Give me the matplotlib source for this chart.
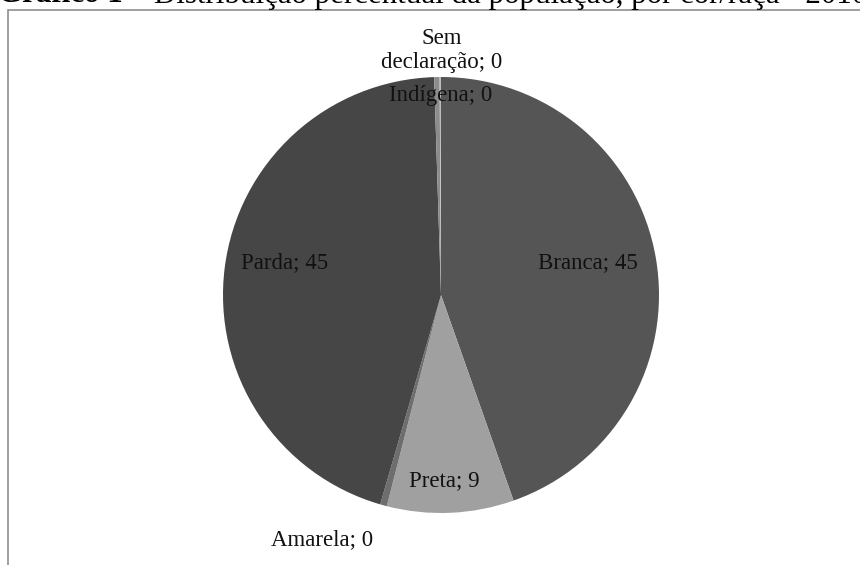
import matplotlib.pyplot as plt
import numpy as np

plt.rcParams['font.family'] = ['Liberation Serif', 'DejaVu Serif']

# Distribuição percentual da população por cor/raça
categorias = ['Branca', 'Preta', 'Amarela', 'Parda', 'Indígena', 'Sem\ndeclaração']
valores = [44.6, 9.4, 0.5, 45.0, 0.4, 0.1]
cores = ['#555555', '#a0a0a0', '#6e6e6e', '#464646', '#8c8c8c', '#bdbdbd']

titulo_num = 'Gráfico 1'
titulo_txt = ' – Distribuição percentual da população, por cor/raça - 2010'

# label anchor positions (pie radius units)
pos_rotulos = [(0.674, 0.15), (0.014, -0.85), (-0.546, -1.12),
               (-0.716, 0.15), (0.0, 0.917), (0.005, 1.12)]

fig = plt.figure(figsize=(8.6, 5.65), dpi=100)

# chart frame (only left/top edges visible)
frame = plt.Rectangle((8 / 860, -0.1), 1.2, 1 - 9.5 / 565 + 0.1, transform=fig.transFigure,
                      fill=False, edgecolor='#8f8f8f', linewidth=1.2)
fig.patches.append(frame)

t1 = fig.text(-0.002, 1 - 2.5 / 565, titulo_num, ha='left', va='baseline',
              fontsize=22.3, fontweight='bold')
fig.canvas.draw()
bb = t1.get_window_extent()
fig.text(bb.x1 / 860, 1 - 2.5 / 565, titulo_txt, ha='left', va='baseline', fontsize=22.3)

ax = fig.add_axes([223 / 860, (565 - 295 - 218) / 565, 436 / 860, 436 / 565])
ax.pie(valores, colors=cores, startangle=90, counterclock=False, radius=1,
       wedgeprops=dict(linewidth=0))
ax.set_xlim(-1, 1)
ax.set_ylim(-1, 1)
ax.set_aspect('equal')
ax.axis('off')

for cat, v, (x, y) in zip(categorias, valores, pos_rotulos):
    ax.text(x, y, f'{cat}; {v:.0f}', ha='center', va='center', fontsize=16.5,
            color='#111111', linespacing=1.2)

fig.savefig('out.png', dpi=100)
